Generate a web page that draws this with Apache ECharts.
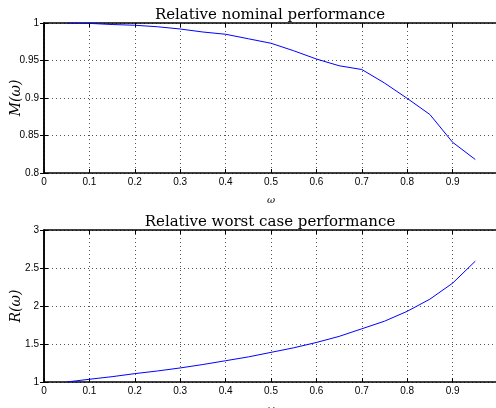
<!DOCTYPE html>
<html>
<head>
<meta charset="utf-8">
<script src="https://cdn.jsdelivr.net/npm/echarts@6/dist/echarts.min.js"></script>
<style>
  html, body { margin: 0; padding: 0; background: #fff; }
  #chart { width: 496px; height: 408px; }
</style>
</head>
<body>
<div id="chart"></div>
<script>
// omega sample points
var omega = [0.05, 0.1, 0.15, 0.2, 0.25, 0.3, 0.35, 0.4, 0.45, 0.5, 0.55, 0.6, 0.65, 0.7, 0.75, 0.8, 0.85, 0.9, 0.95]
// relative nominal performance M(w)
var nominal = [1.0, 0.9995, 0.998, 0.997, 0.995, 0.992, 0.988, 0.985, 0.979, 0.973, 0.963, 0.952, 0.943, 0.938, 0.92, 0.8995, 0.878, 0.841, 0.818]
// relative worst case performance R(w)
var worst = [1.0, 1.036, 1.07, 1.11, 1.145, 1.185, 1.23, 1.28, 1.33, 1.39, 1.45, 1.52, 1.60, 1.70, 1.80, 1.93, 2.09, 2.30, 2.59]

var chart = echarts.init(document.getElementById('chart'))

var labelFont = { fontFamily: 'Liberation Sans', fontSize: 10, color: '#000' }
var dotted = { show: true, lineStyle: { color: '#555', type: [1, 3], width: 1 } }

function xAxisFor(gridIndex, showLabels) {
  return {
    type: 'value',
    gridIndex: gridIndex,
    min: 0,
    max: 1,
    interval: 0.1,
    position: showLabels ? 'bottom' : 'top',
    name: showLabels ? 'ω' : '',
    nameLocation: 'middle',
    nameGap: 22,
    nameMoveOverlap: false,
    nameTextStyle: { fontFamily: 'DejaVu Serif', fontStyle: 'italic', fontSize: 10, color: '#000' },
    axisLine: { show: true, lineStyle: { color: '#000', width: 1.5 } },
    axisTick: { show: true, inside: true, length: 4, lineStyle: { color: '#000' } },
    axisLabel: Object.assign({ show: showLabels, margin: 4,
      formatter: function (v) { return v === 1 ? '' : String(+v.toFixed(1)) } }, labelFont),
    splitLine: showLabels ? dotted : { show: false }
  }
}

function yAxisFor(gridIndex, min, max, step, name, showLabels) {
  return {
    type: 'value',
    gridIndex: gridIndex,
    min: min,
    max: max,
    interval: step,
    position: showLabels ? 'left' : 'right',
    name: showLabels ? name : '',
    nameLocation: 'middle',
    nameGap: 21,
    nameMoveOverlap: false,
    nameTextStyle: { fontFamily: 'DejaVu Serif', fontStyle: 'italic', fontSize: 14, color: '#000' },
    axisLine: { show: true, lineStyle: { color: '#000', width: 1.5 } },
    axisTick: { show: true, inside: true, length: 4, lineStyle: { color: '#000' } },
    axisLabel: Object.assign({ show: showLabels, margin: 5,
      formatter: function (v) { return String(+v.toFixed(2)) } }, labelFont),
    splitLine: showLabels ? dotted : { show: false }
  }
}

chart.setOption({
  animation: false,
  backgroundColor: '#fff',
  title: [{
    text: 'Relative nominal performance',
    left: 265,
    textAlign: 'center',
    top: 3,
    textStyle: { fontFamily: 'DejaVu Serif', fontWeight: 'normal', fontSize: 15, color: '#000' }
  }, {
    text: 'Relative worst case performance',
    left: 265,
    textAlign: 'center',
    top: 210,
    textStyle: { fontFamily: 'DejaVu Serif', fontWeight: 'normal', fontSize: 15, color: '#000' }
  }],
  grid: [
    { left: 44, top: 23, right: -2, height: 150, outerBoundsMode: 'none', containLabel: false },
    { left: 44, top: 230, right: -2, height: 152, outerBoundsMode: 'none', containLabel: false }
  ],
  xAxis: [xAxisFor(0, true), xAxisFor(0, false), xAxisFor(1, true), xAxisFor(1, false)],
  yAxis: [
    yAxisFor(0, 0.8, 1, 0.05, 'M(ω)', true),
    yAxisFor(0, 0.8, 1, 0.05, '', false),
    yAxisFor(1, 1, 3, 0.5, 'R(ω)', true),
    yAxisFor(1, 1, 3, 0.5, '', false)
  ],
  series: [{
    type: 'line',
    xAxisIndex: 0,
    yAxisIndex: 0,
    data: omega.map(function (w, i) { return [w, nominal[i]] }),
    showSymbol: false,
    lineStyle: { color: '#0000ff', width: 1 }
  }, {
    type: 'line',
    xAxisIndex: 2,
    yAxisIndex: 2,
    data: omega.map(function (w, i) { return [w, worst[i]] }),
    showSymbol: false,
    lineStyle: { color: '#0000ff', width: 1 }
  }]
})
</script>
</body>
</html>
